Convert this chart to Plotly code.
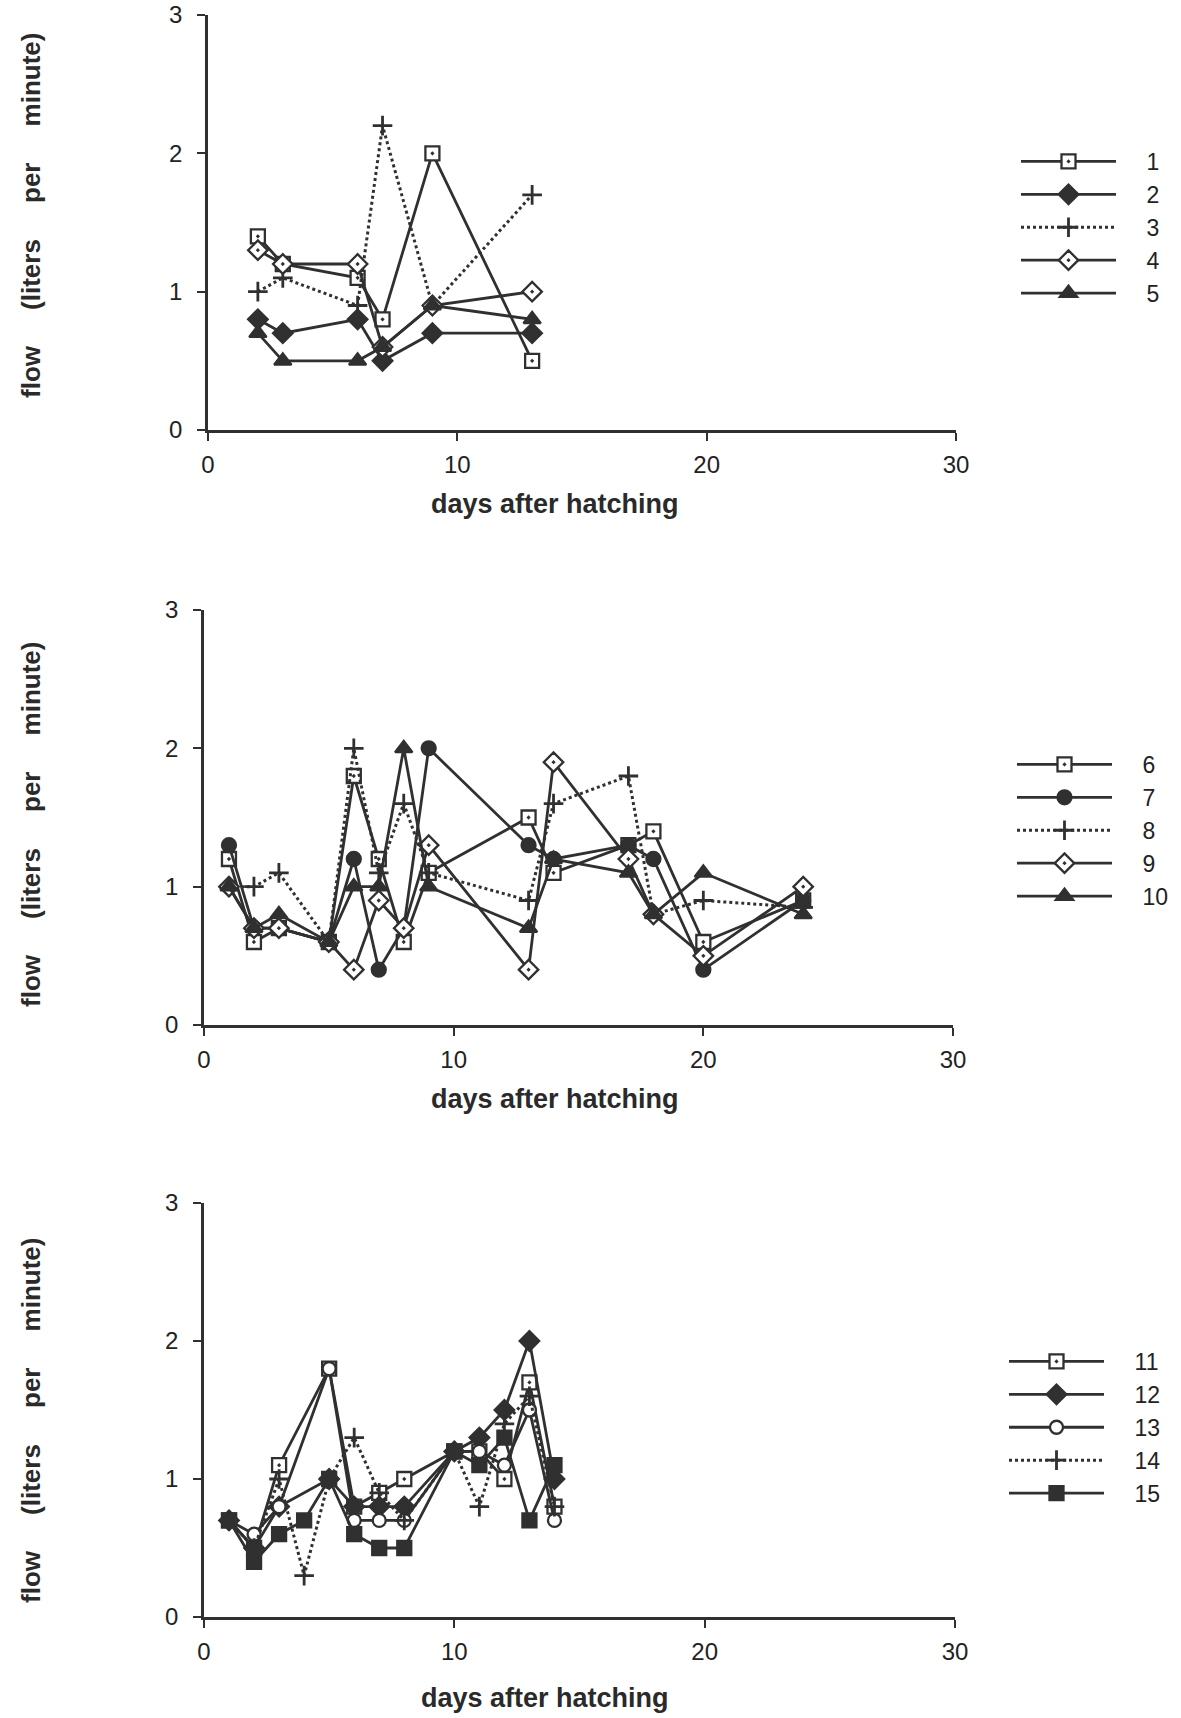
import plotly.graph_objects as go

# ---------------- data ----------------
p1_days = [2, 3, 6, 7, 9, 13]
s1 = [1.4, 1.2, 1.1, 0.8, 2.0, 0.5]
s2 = [0.8, 0.7, 0.8, 0.5, 0.7, 0.7]
s3 = [1.0, 1.1, 0.9, 2.2, 0.9, 1.7]
s4 = [1.3, 1.2, 1.2, 0.6, 0.9, 1.0]
s5 = [0.7, 0.5, 0.5, 0.6, 0.9, 0.8]

p2_days = [1, 2, 3, 5, 6, 7, 8, 9, 13, 14, 17, 18, 20, 24]
s6 = [1.2, 0.6, 0.7, 0.6, 1.8, 1.2, 0.6, 1.1, 1.5, 1.1, 1.3, 1.4, 0.6, 0.9]
s7 = [1.3, 0.7, 0.7, 0.6, 1.2, 0.4, 0.7, 2.0, 1.3, 1.2, 1.3, 1.2, 0.4, 0.9]
s8 = [1.0, 1.0, 1.1, 0.6, 2.0, 1.1, 1.6, 1.1, 0.9, 1.6, 1.8, 0.8, 0.9, 0.85]
s9 = [1.0, 0.7, 0.7, 0.6, 0.4, 0.9, 0.7, 1.3, 0.4, 1.9, 1.2, 0.8, 0.5, 1.0]
s10 = [1.0, 0.7, 0.8, 0.6, 1.0, 1.0, 2.0, 1.0, 0.7, 1.2, 1.1, 0.8, 1.1, 0.8]

p3_days_a = [1, 2, 3, 5, 6, 7, 8, 10, 11, 12, 13, 14]
p3_days_b = [1, 2, 3, 4, 5, 6, 7, 8, 10, 11, 12, 13, 14]
s11 = [0.7, 0.5, 1.1, 1.8, 0.8, 0.9, 1.0, 1.2, 1.2, 1.0, 1.7, 0.8]
s12 = [0.7, 0.5, 0.8, 1.0, 0.8, 0.8, 0.8, 1.2, 1.3, 1.5, 2.0, 1.0]
s13 = [0.7, 0.6, 0.8, 1.8, 0.7, 0.7, 0.7, 1.2, 1.2, 1.1, 1.5, 0.7]
s14 = [0.7, 0.5, 1.0, 0.3, 1.0, 1.3, 0.9, 0.7, 1.2, 0.8, 1.4, 1.6, 0.8]
s15 = [0.7, 0.4, 0.6, 0.7, 1.0, 0.6, 0.5, 0.5, 1.2, 1.1, 1.3, 0.7, 1.1]

x_ticks = [0, 10, 20, 30]
y_ticks = [0, 1, 2, 3]
x_title = "days after hatching"
GAP = "\u00a0" * 5
y_title = "flow" + GAP + "(liters" + GAP + "per" + GAP + "minute)"

# ---------------- styles ----------------
INK = "#303030"
W, H = 1181, 1718
FONT = "Arial, Liberation Sans, sans-serif"

styles = {
    "square_dot": dict(symbol="square-dot", color="white", size=14),
    "diamond": dict(symbol="diamond", color=INK, size=15),
    "plus": dict(symbol="cross-thin", color=INK, size=14),
    "diamond_dot": dict(symbol="diamond-dot", color="white", size=15),
    "triangle": dict(symbol="triangle-up", color=INK, size=15),
    "circle": dict(symbol="circle", color=INK, size=14),
    "open_circle": dict(symbol="circle", color="white", size=13),
    "square": dict(symbol="square", color=INK, size=14),
}

fig = go.Figure()
LEG_PAD = "\u00a0" * 4


def add(days, vals, name, style, panel, dotted=False):
    st = styles[style]
    ax = "" if panel == 1 else str(panel)
    fig.add_trace(go.Scatter(
        x=days, y=vals, name=LEG_PAD + name, mode="lines+markers",
        xaxis="x" + ax, yaxis="y" + ax,
        legend="legend" + ax,
        line=dict(color=INK, width=3 if dotted else 2.8, dash="dot" if dotted else "solid"),
        marker=dict(symbol=st["symbol"], size=st["size"], color=st["color"],
                    line=dict(color=INK, width=2.8 if style == "plus" else 2.3)),
        cliponaxis=False,
    ))


add(p1_days, s1, "1", "square_dot", 1)
add(p1_days, s2, "2", "diamond", 1)
add(p1_days, s3, "3", "plus", 1, dotted=True)
add(p1_days, s4, "4", "diamond_dot", 1)
add(p1_days, s5, "5", "triangle", 1)

add(p2_days, s6, "6", "square_dot", 2)
add(p2_days, s7, "7", "circle", 2)
add(p2_days, s8, "8", "plus", 2, dotted=True)
add(p2_days, s9, "9", "diamond_dot", 2)
add(p2_days, s10, "10", "triangle", 2)

add(p3_days_a, s11, "11", "square_dot", 3)
add(p3_days_a, s12, "12", "diamond", 3)
add(p3_days_a, s13, "13", "open_circle", 3)
add(p3_days_b, s14, "14", "plus", 3, dotted=True)
add(p3_days_b, s15, "15", "square", 3)

# panel geometry in pixels (left, right, top, bottom)
panels = [(208, 956, 15, 430), (204, 953, 610, 1025), (204, 955, 1203, 1617)]

axis_common = dict(showgrid=False, zeroline=False, showline=True, linecolor=INK, linewidth=2.5,
                   ticks="outside", ticklen=8, tickwidth=2, tickcolor=INK,
                   tickfont=dict(family=FONT, size=24, color="#222"))

layout = dict(width=W, height=H, margin=dict(l=0, r=0, t=0, b=0, autoexpand=False),
              paper_bgcolor="white", plot_bgcolor="white", showlegend=True)

for i, (l, r, t, b) in enumerate(panels, start=1):
    sx = "" if i == 1 else str(i)
    layout["xaxis" + sx] = dict(axis_common, domain=[l / W, r / W], range=[0, 30],
                                tickvals=x_ticks, anchor="y" + sx, ticklabelstandoff=3)
    layout["yaxis" + sx] = dict(axis_common, domain=[1 - b / H, 1 - t / H], range=[0, 3],
                                tickvals=y_ticks, anchor="x" + sx, ticklabelstandoff=10)

legend_tops = [140, 743, 1340]
legend_x = [1016, 1012, 1004]
for i, (top, lx) in enumerate(zip(legend_tops, legend_x), start=1):
    key = "legend" if i == 1 else "legend" + str(i)
    layout[key] = dict(x=lx / W, y=1 - top / H, xanchor="left", yanchor="top",
                       itemwidth=95, bgcolor="rgba(0,0,0,0)",
                       font=dict(family=FONT, size=23, color="#222"),
                       tracegroupgap=0)

fig.update_layout(**layout)

# axis titles as annotations
x_title_pos = [(555, 504), (555, 1099), (545, 1698)]
y_title_pos = [(31, 215), (31, 824), (31, 1420)]
for (xx, yy) in x_title_pos:
    fig.add_annotation(text=f"<b>{x_title}</b>", x=xx / W, y=1 - yy / H, xref="paper", yref="paper",
                       showarrow=False, xanchor="center", yanchor="middle",
                       font=dict(family=FONT, size=27, color="#2a2a2a"))
for (xx, yy) in y_title_pos:
    fig.add_annotation(text=f"<b>{y_title}</b>", x=xx / W, y=1 - yy / H, xref="paper", yref="paper",
                       showarrow=False, xanchor="center", yanchor="middle", textangle=-90,
                       font=dict(family=FONT, size=26, color="#2a2a2a"))

fig.write_html("out.html")
